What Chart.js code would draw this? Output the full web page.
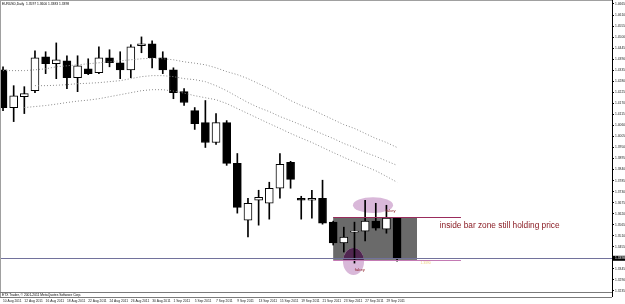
<!DOCTYPE html>
<html lang="en">
<head>
<meta charset="UTF-8">
<title>EURUSD Daily</title>
<script src="https://cdn.jsdelivr.net/npm/chart.js"></script>
<style>
  body { margin: 0; background: #fff; }
  .wrap { position: relative; width: 625px; height: 304px; }
</style>
</head>
<body>
<div class="wrap"><canvas id="chart"></canvas></div>
<script>
// daily bars, 10 Aug - 30 Sep 2011
const dates = ['10 Aug 2011','11 Aug 2011','12 Aug 2011','15 Aug 2011','16 Aug 2011','17 Aug 2011','18 Aug 2011','19 Aug 2011',
  '22 Aug 2011','23 Aug 2011','24 Aug 2011','25 Aug 2011','26 Aug 2011','29 Aug 2011','30 Aug 2011','31 Aug 2011',
  '1 Sep 2011','2 Sep 2011','5 Sep 2011','6 Sep 2011','7 Sep 2011','8 Sep 2011','9 Sep 2011','12 Sep 2011',
  '13 Sep 2011','14 Sep 2011','15 Sep 2011','16 Sep 2011','19 Sep 2011','20 Sep 2011','21 Sep 2011','22 Sep 2011',
  '23 Sep 2011','26 Sep 2011','27 Sep 2011','28 Sep 2011','29 Sep 2011','30 Sep 2011'];
const opens  = [1.4337,1.4149,1.4203,1.4233,1.4402,1.4367,1.4382,1.4298,1.4342,1.4323,1.4397,1.4372,1.4337,1.4457,1.4467,1.4397,
  1.4337,1.4228,1.4134,1.4074,1.3975,1.4074,1.3871,1.3588,1.3687,1.3672,1.3747,1.3876,1.3697,1.3687,1.3697,1.3578,
  1.3474,1.3528,1.3533,1.3583,1.3543,1.3597];
const highs  = [1.4352,1.4258,1.4253,1.4432,1.4427,1.4471,1.4407,1.4407,1.4392,1.4452,1.4437,1.4427,1.4462,1.4501,1.4481,1.4427,
  1.4347,1.4243,1.4149,1.4184,1.4119,1.4084,1.3920,1.3697,1.3737,1.3777,1.3920,1.3881,1.3707,1.3737,1.3787,1.3583,
  1.3553,1.3578,1.3687,1.3672,1.3662,1.3600];
const lows   = [1.4134,1.4079,1.4119,1.4223,1.4318,1.4293,1.4243,1.4228,1.4313,1.4318,1.4352,1.4293,1.4298,1.4422,1.4347,1.4318,
  1.4193,1.4159,1.4040,1.3950,1.3965,1.3861,1.3623,1.3504,1.3563,1.3593,1.3697,1.3747,1.3593,1.3598,1.3568,1.3464,
  1.3429,1.3374,1.3484,1.3538,1.3523,1.3383];
const closes = [1.4149,1.4208,1.4218,1.4397,1.4367,1.4387,1.4298,1.4357,1.4318,1.4397,1.4372,1.4337,1.4452,1.4467,1.4397,1.4337,
  1.4223,1.4174,1.4069,1.3975,1.4074,1.3871,1.3652,1.3672,1.3702,1.3747,1.3866,1.3791,1.3687,1.3697,1.3573,1.3474,
  1.3504,1.3533,1.3583,1.3548,1.3598,1.3398];

// three dotted moving averages
const maSlow = [1.4333,1.4333,1.4333,1.4337,1.4342,1.4352,1.4357,1.4362,1.4367,1.4372,1.4377,1.4382,1.4387,1.4392,1.4395,1.4392,
  1.4387,1.4377,1.4370,1.4362,1.4347,1.4328,1.4313,1.4293,1.4268,1.4243,1.4213,1.4184,1.4159,1.4139,1.4114,1.4089,
  1.4064,1.4045,1.4020,1.3995,1.3975,1.3950];
const maMid = [null,null,null,1.4258,1.4258,1.4260,1.4263,1.4268,1.4270,1.4273,1.4278,1.4283,1.4293,1.4303,1.4308,1.4308,
  1.4303,1.4293,1.4288,1.4278,1.4258,1.4233,1.4203,1.4174,1.4149,1.4129,1.4104,1.4084,1.4062,1.4040,1.4017,1.3995,
  1.3970,1.3950,1.3925,1.3906,1.3883,1.3861];
const maFast = [null,null,1.4149,1.4154,1.4159,1.4166,1.4174,1.4181,1.4186,1.4193,1.4203,1.4213,1.4223,1.4233,1.4238,1.4238,
  1.4231,1.4221,1.4208,1.4198,1.4188,1.4169,1.4144,1.4119,1.4094,1.4069,1.4045,1.4020,1.3997,1.3975,1.3950,1.3925,
  1.3901,1.3878,1.3856,1.3834,1.3806,1.3777];

const yTicks = [1.4665,1.4610,1.4555,1.4500,1.4445,1.4390,1.4335,1.4280,1.4225,1.4170,1.4115,1.4060,1.4005,1.3950,
  1.3895,1.3840,1.3785,1.3730,1.3675,1.3620,1.3565,1.3510,1.3455,1.3400,1.3345,1.3290,1.3235];
const xTicks = [0,2,4,6,8,10,12,14,16,18,20,22,24,26,28,30,32,34,36];

const titleText = 'EURUSD,Daily  1.3597 1.3600 1.3383 1.3398';
const footText = 'ETX Trader, \u00a9 2001-2011 MetaQuotes Software Corp.';
const noteText = 'inside bar zone still holding price';
const bidPrice = 1.3398;

// inside bar zone + fakey marks (data coordinates)
const zone = { from: 31, to: 38.87, lineTo: 43, top: 1.3603, bottom: 1.3390 };
const marks = [
  { x0: 32.86, x1: 36.62, y0: 1.3702, y1: 1.3623, label: 'fakey', lx: 36.4, ly: 1.3633 },
  { x0: 31.92, x1: 33.90, y0: 1.3449, y1: 1.3315, label: 'fakey', lx: 33.5, ly: 1.3340 }
];

const tiny = { family: 'Liberation Sans, Arial, sans-serif', size: 3.3 };

const overlay = {
  id: 'overlay',
  beforeDatasetsDraw(chart) {
    const { ctx, chartArea: a, scales: { x, y } } = chart;
    ctx.save();
    ctx.beginPath();
    ctx.rect(a.left, a.top, a.right - a.left, a.bottom - a.top);
    ctx.clip();
    const bx0 = x.getPixelForValue(zone.from), bx1 = x.getPixelForValue(zone.to);
    const by0 = y.getPixelForValue(zone.top), by1 = y.getPixelForValue(zone.bottom);
    ctx.fillStyle = '#6a6a6a';
    ctx.fillRect(bx0, by0, bx1 - bx0, by1 - by0);

    marks.forEach(m => {
      const px0 = x.getPixelForValue(m.x0), px1 = x.getPixelForValue(m.x1);
      const py0 = y.getPixelForValue(m.y0), py1 = y.getPixelForValue(m.y1);
      const ell = () => {
        ctx.beginPath();
        ctx.ellipse((px0 + px1) / 2, (py0 + py1) / 2, (px1 - px0) / 2, (py1 - py0) / 2, 0, 0, Math.PI * 2);
      };
      ctx.fillStyle = '#d9b8d9';
      ell(); ctx.fill();
      // part over the gray box turns dark
      ctx.save();
      ctx.beginPath();
      ctx.rect(bx0, by0, bx1 - bx0, by1 - by0);
      ctx.clip();
      ctx.fillStyle = '#502650';
      ell(); ctx.fill();
      ctx.restore();
    });
    ctx.restore();
  },
  afterDatasetsDraw(chart) {
    const { ctx, chartArea: a, scales: { x, y } } = chart;
    ctx.save();
    // bid line
    const bidY = Math.round(y.getPixelForValue(bidPrice)) + 0.5;
    ctx.strokeStyle = '#72729c';
    ctx.lineWidth = 1;
    ctx.beginPath(); ctx.moveTo(0, bidY); ctx.lineTo(a.right, bidY); ctx.stroke();

    // zone edge lines
    const lx0 = x.getPixelForValue(zone.from), lx1 = x.getPixelForValue(zone.lineTo);
    const ty = Math.round(y.getPixelForValue(zone.top)) + 0.5;
    const btm = Math.round(y.getPixelForValue(zone.bottom)) + 0.5;
    ctx.strokeStyle = '#9a2c5c';
    ctx.beginPath(); ctx.moveTo(lx0, ty); ctx.lineTo(lx1, ty); ctx.stroke();
    ctx.strokeStyle = '#c47ab4';
    ctx.beginPath(); ctx.moveTo(lx0, btm); ctx.lineTo(lx1, btm); ctx.stroke();

    // labels
    ctx.fillStyle = '#8a1c24';
    ctx.textBaseline = 'middle';
    ctx.textAlign = 'center';
    ctx.font = '4.2px Liberation Sans, Arial, sans-serif';
    marks.forEach(m => ctx.fillText(m.label, x.getPixelForValue(m.lx), y.getPixelForValue(m.ly)));
    ctx.textAlign = 'left';
    ctx.font = '8.3px Liberation Sans, Arial, sans-serif';
    ctx.fillText(noteText, x.getPixelForValue(41.0), y.getPixelForValue(1.3558));
    ctx.fillStyle = '#f0cf80';
    ctx.font = '3.3px Liberation Sans, Arial, sans-serif';
    ctx.fillText('1.3390', x.getPixelForValue(39.2), y.getPixelForValue(1.3375));
    ctx.restore();
  },
  afterDraw(chart) {
    const { ctx, chartArea: a, scales: { y } } = chart;
    ctx.save();
    ctx.strokeStyle = '#a0a0a0';
    ctx.lineWidth = 1;
    ctx.beginPath();
    ctx.moveTo(0, 0.5); ctx.lineTo(a.right, 0.5);
    ctx.moveTo(0.5, 0); ctx.lineTo(0.5, 297);
    ctx.stroke();
    ctx.strokeStyle = '#7a7a7a';
    ctx.beginPath();
    ctx.moveTo(0, a.bottom + 0.5); ctx.lineTo(a.right, a.bottom + 0.5);
    ctx.moveTo(0, 297.5); ctx.lineTo(a.right, 297.5);
    ctx.stroke();
    ctx.strokeStyle = '#000';
    ctx.beginPath(); ctx.moveTo(a.right + 0.5, 0); ctx.lineTo(a.right + 0.5, 297); ctx.stroke();

    ctx.fillStyle = '#000';
    ctx.textBaseline = 'middle';
    ctx.textAlign = 'left';
    ctx.font = '3.3px Liberation Sans, Arial, sans-serif';
    ctx.fillText(titleText, 2, 4);
    ctx.fillText(footText, 2, 295);

    // bid label on the price scale
    const bidY = y.getPixelForValue(bidPrice);
    ctx.fillStyle = '#000';
    ctx.fillRect(a.right + 1, bidY - 2.5, 12, 5);
    ctx.fillStyle = '#fff';
    ctx.fillText(bidPrice.toFixed(4), a.right + 3, bidY);
    ctx.restore();
  }
};

const bodyColor = ctx => closes[ctx.dataIndex] >= opens[ctx.dataIndex] ? '#ffffff' : '#000000';

new Chart(document.getElementById('chart'), {
  type: 'bar',
  data: {
    datasets: [
      {
        type: 'line', data: maSlow.map((v, i) => ({ x: i, y: v })), order: 0,
        borderColor: '#8a8a8a', borderWidth: 1, borderDash: [1, 2], pointRadius: 0, tension: 0
      },
      {
        type: 'line', data: maMid.map((v, i) => ({ x: i, y: v })), order: 0,
        borderColor: '#8a8a8a', borderWidth: 1, borderDash: [1, 2], pointRadius: 0, tension: 0
      },
      {
        type: 'line', data: maFast.map((v, i) => ({ x: i, y: v })), order: 0,
        borderColor: '#8a8a8a', borderWidth: 1, borderDash: [1, 2], pointRadius: 0, tension: 0
      },
      {
        data: opens.map((o, i) => ({ x: i, y: [o, closes[i]] })), order: 1, grouped: false,
        barThickness: 8, backgroundColor: bodyColor, borderColor: '#000', borderWidth: 1, borderSkipped: false
      },
      {
        data: lows.map((l, i) => ({ x: i, y: [l, highs[i]] })), order: 2, grouped: false,
        barThickness: 1, backgroundColor: '#000', borderWidth: 0
      }
    ]
  },
  options: {
    responsive: true,
    maintainAspectRatio: false,
    animation: false,
    events: [],
    layout: { padding: { top: 2, left: 1, right: 0, bottom: 0 } },
    plugins: { legend: { display: false }, tooltip: { enabled: false } },
    scales: {
      x: {
        type: 'linear', min: -0.19, max: 57.18, offset: false,
        afterFit: s => { s.height = 12; },
        afterBuildTicks: s => { s.ticks = xTicks.map(v => ({ value: v })); },
        // invisible tick marks push the labels down without adding side padding
        grid: { display: true, drawOnChartArea: false, drawTicks: true, tickLength: 7, color: 'rgba(0,0,0,0)' },
        border: { display: false },
        ticks: {
          autoSkip: false, maxRotation: 0, align: 'start', padding: 0,
          color: '#222', font: tiny,
          callback: v => dates[v]
        }
      },
      y: {
        position: 'right', min: 1.3230, max: 1.4670,
        afterFit: s => { s.width = 13; },
        afterBuildTicks: s => { s.ticks = yTicks.map(v => ({ value: v })); },
        grid: { drawOnChartArea: false, tickLength: 2, color: '#000' },
        border: { display: true, color: '#000' },
        ticks: { padding: 1, color: '#222', font: tiny, callback: v => v.toFixed(4) }
      }
    }
  },
  plugins: [overlay]
});
</script>
</body>
</html>
